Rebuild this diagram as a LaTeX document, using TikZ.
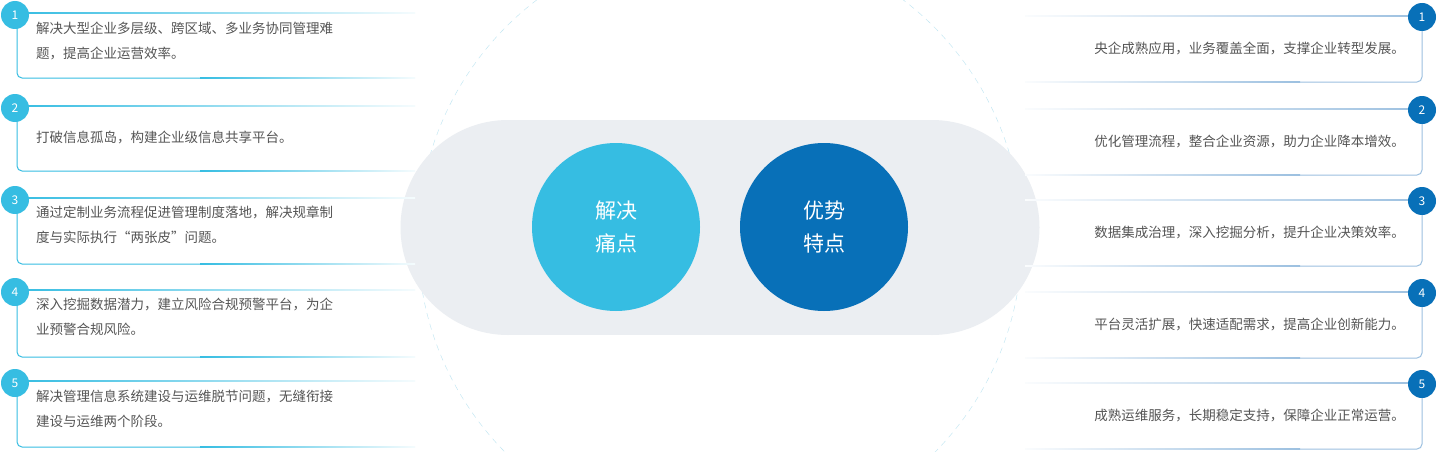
\documentclass[tikz,border=0pt]{standalone}
\usepackage{fontspec}
\setmainfont{Noto Sans CJK SC}
\definecolor{lb}{HTML}{36BDE2}
\definecolor{db}{HTML}{0870B8}
\definecolor{pillc}{HTML}{EBEEF2}
\definecolor{txt}{HTML}{555555}
\definecolor{dashc}{HTML}{BDE5F2}
\definecolor{rb}{HTML}{9CC0E0}
\begin{document}
\begin{tikzpicture}[x=1pt,y=-1pt,
  badge/.style={circle,minimum size=28pt,inner sep=0pt,text=white,font=\fontsize{12}{12}\selectfont},
  item/.style={text=txt,font=\fontsize{13.5}{25}\selectfont,inner sep=0pt},
  big/.style={circle,minimum size=168pt,inner sep=0pt,text=white,align=center,font=\fontsize{21}{33}\selectfont}]
\useasboundingbox (0,0) rectangle (1440,452);
\fill[white] (0,0) rectangle (1440,452);
\draw[dashc,dash pattern=on 6pt off 5pt] (720,240) circle[radius=302];
% arrows
\shade[left color=lb!25,right color=white] (448,228) -- (475,208) -- (475,217) -- (512,217) -- (512,238) -- (475,238) -- (475,248) -- cycle;
\shade[left color=white,right color=db!18] (928,217) -- (965,217) -- (965,208) -- (991,228) -- (965,248) -- (965,238) -- (928,238) -- cycle;
\fill[pillc] (508,120) rectangle (932,335);
\fill[pillc] (508,227.5) circle[radius=107.5];
\fill[pillc] (932,227.5) circle[radius=107.5];
\node[big,fill=lb] (a) at (616,227) {解决\\痛点};
\node[big,fill=db] (b) at (824,227) {优势\\特点};
% left items
\foreach \i/\y/\h in {1/13/65,2/106/65,3/198/66,4/290/67,5/381/66}{
  \shade[left color=lb,right color=lb!5] (20,\y-0.5) rectangle (415,\y+0.5);
  \draw[lb,line width=1pt,rounded corners=5pt] (17,\y) -- (17,\y+\h) -- (200,\y+\h);
  \shade[left color=lb,right color=lb!5] (200,\y+\h-0.5) rectangle (415,\y+\h+0.5);
  \node[badge,fill=lb] (l\i) at (15,\y+2) {\i};
}
\node[item,anchor=north west,align=left] (t1) at (36,22) {解决大型企业多层级、跨区域、多业务协同管理难\\题，提高企业运营效率。};
\node[item,anchor=west] (t2) at (36,137) {打破信息孤岛，构建企业级信息共享平台。};
\node[item,anchor=north west,align=left] (t3) at (36,206) {通过定制业务流程促进管理制度落地，解决规章制\\度与实际执行“两张皮”问题。};
\node[item,anchor=north west,align=left] (t4) at (36,298) {深入挖掘数据潜力，建立风险合规预警平台，为企\\业预警合规风险。};
\node[item,anchor=north west,align=left] (t5) at (36,390) {解决管理信息系统建设与运维脱节问题，无缝衔接\\建设与运维两个阶段。};
% right items
\foreach \i/\y in {1/16,2/109,3/200,4/292,5/383}{
  \shade[left color=rb!5,right color=rb] (1025,\y-0.5) rectangle (1422,\y+0.5);
  \shade[left color=rb!5,right color=rb] (1025,\y+65.5) rectangle (1300,\y+66.5);
  \draw[rb,line width=1pt,rounded corners=5pt] (1300,\y+66) -- (1422,\y+66) -- (1422,\y);
  \node[badge,fill=db] (r\i) at (1422,\y+1) {\i};
}
\node[item,anchor=east] (s1) at (1405,48) {央企成熟应用，业务覆盖全面，支撑企业转型发展。};
\node[item,anchor=east] (s2) at (1405,141) {优化管理流程，整合企业资源，助力企业降本增效。};
\node[item,anchor=east] (s3) at (1405,232) {数据集成治理，深入挖掘分析，提升企业决策效率。};
\node[item,anchor=east] (s4) at (1405,324) {平台灵活扩展，快速适配需求，提高企业创新能力。};
\node[item,anchor=east] (s5) at (1405,415) {成熟运维服务，长期稳定支持，保障企业正常运营。};
\end{tikzpicture}
\end{document}
